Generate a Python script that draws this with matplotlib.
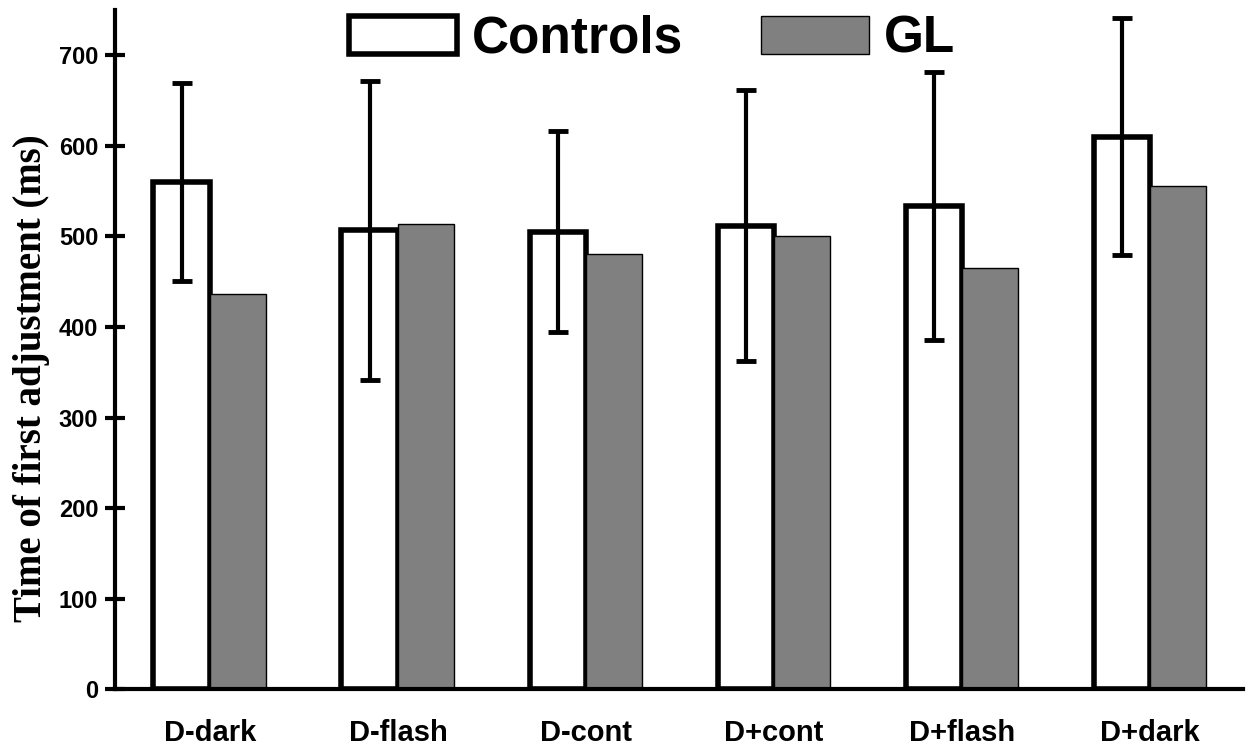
import numpy as np
import matplotlib
matplotlib.use('Agg')
import matplotlib.pyplot as plt

# データ
conditions = ['D-dark', 'D-flash', 'D-cont', 'D+cont', 'D+flash', 'D+dark']
controls = [560, 507, 505, 512, 534, 610]
controls_err = [109, 165, 111, 150, 148, 131]
gl = [436, 514, 481, 500, 465, 556]

plt.rcParams['font.family'] = ['Liberation Sans', 'DejaVu Sans']
plt.rcParams['font.weight'] = 'bold'

fig = plt.figure(figsize=(12.48, 7.45), dpi=100)
ax = fig.add_axes([0.0921, 0.0746, 0.9039, 0.912])

x = np.arange(len(conditions))
w = 0.3

bars_c = ax.bar(x - w / 2, controls, w, color='white', edgecolor='black',
                linewidth=4, label='Controls', zorder=2)
bars_g = ax.bar(x + w / 2, gl, w, color='#808080', edgecolor='black',
                linewidth=1, label='GL', zorder=2)
ax.errorbar(x - w / 2, controls, yerr=controls_err, fmt='none', ecolor='black',
            elinewidth=3, capsize=7, capthick=3.5, zorder=3)

ax.set_xlim(-0.505, 5.495)
ax.set_ylim(0, 750)
ax.set_yticks([0, 100, 200, 300, 400, 500, 600, 700])
ax.set_xticks(x)
ax.set_xticklabels(conditions, fontsize=21, fontweight='bold')
ax.tick_params(axis='x', length=0, pad=21)
ax.tick_params(axis='y', direction='inout', length=14, width=3, labelsize=17, pad=5)
for lbl in ax.get_yticklabels():
    lbl.set_fontweight('bold')

ax.spines['top'].set_visible(False)
ax.spines['right'].set_visible(False)
ax.spines['left'].set_linewidth(3)
ax.spines['bottom'].set_linewidth(3)

ax.set_ylabel('Time of first adjustment (ms)', fontsize=28, fontweight='bold',
              family=['Liberation Serif', 'DejaVu Serif'])
ax.yaxis.set_label_coords(-0.058, 0.458)

fig.legend(handles=[bars_c, bars_g], loc='upper left', bbox_to_anchor=(0.2796, 0.98),
           frameon=False, ncol=2, prop={'size': 37, 'weight': 'bold'},
           handlelength=2.1, handleheight=0.78, handletextpad=0.3,
           columnspacing=1.5, borderpad=0, borderaxespad=0)

fig.savefig('out.png', dpi=100)
